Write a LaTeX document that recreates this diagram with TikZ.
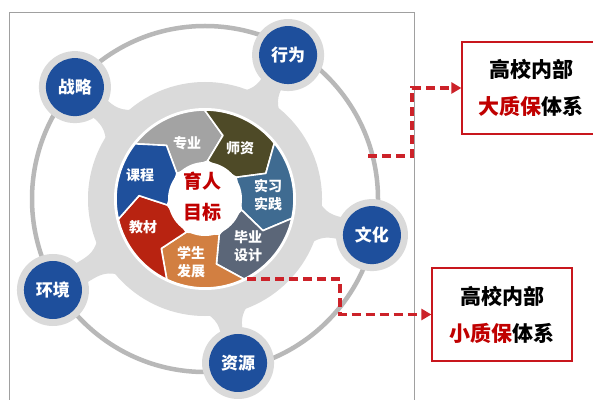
\documentclass[tikz,border=0pt]{standalone}
\usepackage{fontspec}
\setmainfont{Noto Sans CJK SC}
\usetikzlibrary{arrows.meta}
\definecolor{bandgray}{HTML}{DADADA}
\definecolor{ringgray}{HTML}{B8B8B8}
\definecolor{framegray}{HTML}{A0A0A0}
\definecolor{circblue}{HTML}{1E4F9C}
\definecolor{cZY}{HTML}{A3A3A3}
\definecolor{cSZ}{HTML}{4E4A27}
\definecolor{cSX}{HTML}{3F6B91}
\definecolor{cBY}{HTML}{5B6678}
\definecolor{cXS}{HTML}{D27F41}
\definecolor{cJC}{HTML}{B82311}
\definecolor{cKC}{HTML}{1F509C}
\definecolor{textred}{HTML}{C00000}
\definecolor{boxred}{HTML}{C8161D}
\definecolor{arrred}{HTML}{CC2229}
\tikzset{
  halo/.style={circle, fill=bandgray, minimum size=72pt, inner sep=0pt},
  bluecirc/.style={circle, fill=circblue, minimum size=58pt, inner sep=0pt, text=white, font=\bfseries\fontsize{17}{20}\selectfont},
  seglabel/.style={text=white, inner sep=0pt, align=center, font=\bfseries\fontsize{14}{18}\selectfont},
  centerlabel/.style={text=textred, inner sep=0pt, align=center, font=\bfseries\fontsize{19}{31}\selectfont},
  qbox/.style={draw=boxred, line width=1.3pt, fill=white, align=center, inner sep=0pt, font=\bfseries\fontsize{21}{37}\selectfont},
  darrow/.style={draw=arrred, line width=3.6pt, dash pattern=on 9pt off 5pt, -{Triangle[length=10pt,width=11pt]}},
  segfill/.style={draw=white, line width=1.6pt, line join=round}
}
\begin{document}
\begin{tikzpicture}[x=1pt,y=1pt]
\useasboundingbox (0,0) rectangle (593,399);
\clip (0,0) rectangle (593,399);
\fill[white] (0,0) rectangle (593,399);
% frame
\draw[framegray, line width=1pt] (9,-10) rectangle (414,386);
\begin{scope}[shift={(205,200)}]
  % outer thin ring
  \draw[ringgray, line width=4.5pt] (0,0) circle[radius=173];
  % spokes
  \foreach \ang/\d in {139.3/171.6, 60.0/166.2, -12.2/170.8, -78.6/167.3, 210.9/177.2}{
    \fill[bandgray, rotate=\ang] (106,-28) .. controls (118,-14) and (124,-11) .. (138,-11) -- (\d,-11) -- (\d,11) -- (138,11) .. controls (124,11) and (118,14) .. (106,28) -- cycle;
  }
  % band
  \fill[bandgray] (0,0) circle[radius=117];
  \fill[white] (0,0) circle[radius=91];
  % small circles
  \node[halo] (zlh) at (139.3:171.6) {};
  \node[halo] (xwh) at (60.0:166.2) {};
  \node[halo] (whh) at (-12.2:170.8) {};
  \node[halo] (zyh) at (-78.6:167.3) {};
  \node[halo] (hjh) at (210.9:177.2) {};
  \node[bluecirc] (zl) at (zlh) {战略};
  \node[bluecirc] (xw) at (xwh) {行为};
  \node[bluecirc] (wh) at (whh) {文化};
  \node[bluecirc] (zy) at (zyh) {资源};
  \node[bluecirc] (hj) at (hjh) {环境};
  % wheel segments
  \foreach \i/\col in {0/cZY,1/cSZ,2/cSX,3/cBY,4/cXS,5/cJC,6/cKC}{
    \pgfmathsetmacro\ba{133.7-51.43*\i}
    \pgfmathsetmacro\bb{\ba-51.43}
    \fill[\col, segfill] ({\ba+4}:38) -- ({\ba-8}:66) -- ({\ba+8}:89)
      arc[start angle=\ba+8, end angle=\bb+8, radius=89]
      -- ({\bb-8}:66) -- ({\bb+4}:38) -- cycle;
  }
  \fill[white] (0,0) circle[radius=37];
\end{scope}
% wheel labels
\node[seglabel] (lzy) at (187,256) {专业};
\node[seglabel] (lsz) at (240,251) {师资};
\node[seglabel] (lsx) at (268,204) {实习\\实践};
\node[seglabel] (lby) at (248,153) {毕业\\设计};
\node[seglabel] (lxs) at (191,137) {学生\\发展};
\node[seglabel] (ljc) at (143,172) {教材};
\node[seglabel] (lkc) at (140,224) {课程};
\node[centerlabel] (mid) at (202,202) {育人\\目标};
% boxes
\node[qbox, minimum width=138pt, minimum height=92pt] (box1) at (531,311) {高校内部\\{\color{textred}大质保}体系};
\node[qbox, minimum width=140pt, minimum height=93pt] (box2) at (502,84.5) {高校内部\\{\color{textred}小质保}体系};
% dashed connectors
\coordinate (a1s) at (368,243);
\coordinate (a1k) at (412,243);
\coordinate (a2s) at (247,120);
\coordinate (a2k) at (340,120);
\draw[darrow] (a1s) -- (a1k) |- (box1.west);
\draw[darrow] (a2s) -- (a2k) |- (box2.west);
\end{tikzpicture}
\end{document}
